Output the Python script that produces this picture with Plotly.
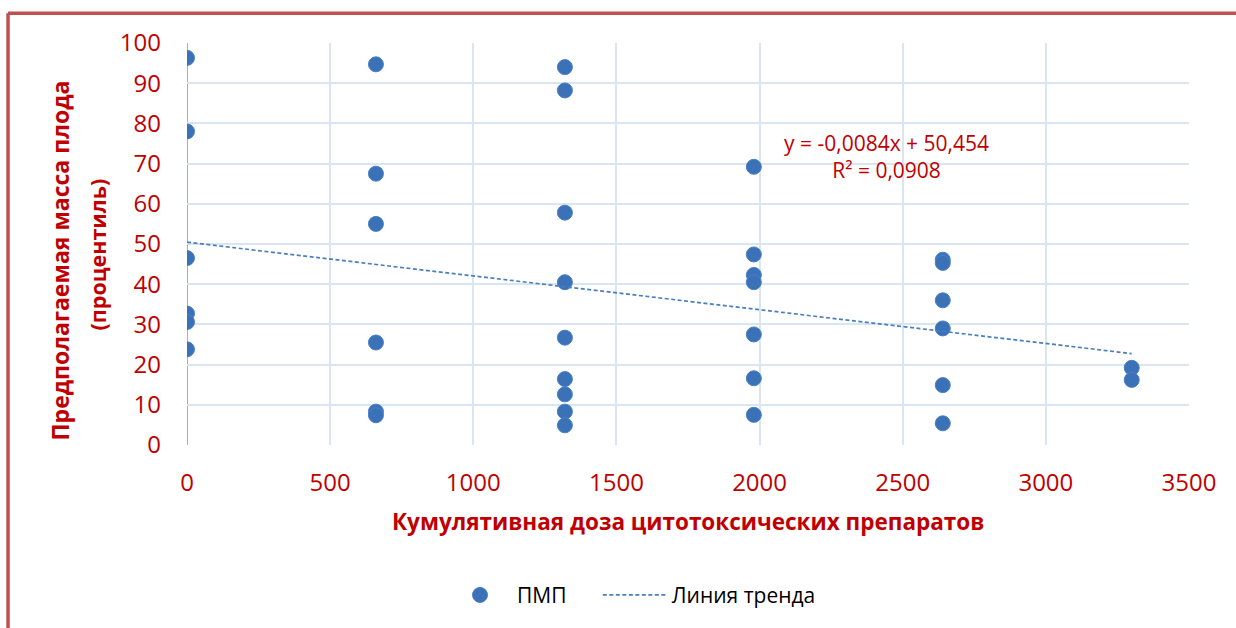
import plotly.graph_objects as go

# Cumulative cytotoxic dose (x) and estimated fetal weight percentile (y)
dose = [0, 0, 0, 0, 0, 0,
        660, 660, 660, 660, 660, 660,
        1320, 1320, 1320, 1320, 1320, 1320, 1320, 1320, 1320,
        1980, 1980, 1980, 1980, 1980, 1980, 1980,
        2640, 2640, 2640, 2640, 2640, 2640,
        3300, 3300]
percentile = [96.3, 78.0, 46.5, 32.7, 30.6, 23.8,
              94.7, 67.5, 55.0, 25.5, 8.3, 7.4,
              94.0, 88.2, 57.8, 40.5, 26.7, 16.4, 12.6, 8.3, 4.9,
              69.2, 47.4, 42.3, 40.5, 27.5, 16.6, 7.5,
              46.1, 45.3, 36.0, 29.0, 14.9, 5.4,
              19.2, 16.2]

# Linear trend coefficients
slope = -0.0084
intercept = 50.454
r_squared = 0.0908

x_ticks = [0, 500, 1000, 1500, 2000, 2500, 3000, 3500]
y_ticks = [0, 10, 20, 30, 40, 50, 60, 70, 80, 90, 100]

x_title = "Кумулятивная доза цитотоксических препаратов"
y_title_1 = "Предполагаемая масса плода"
y_title_2 = "(процентиль)"
series_name = "ПМП"
trend_name = "Линия тренда"

def fmt(v, nd):
    return f"{v:.{nd}f}".replace(".", ",")

trend_x = [min(dose), max(dose)]
trend_y = [slope * x + intercept for x in trend_x]

RED = "#C00000"
FONT = "Open Sans, Noto Sans, sans-serif"

fig = go.Figure()
fig.add_trace(go.Scatter(
    x=dose, y=percentile, mode="markers", name=series_name, legend="legend",
    marker=dict(size=15, color="#3A71B7", line=dict(width=1, color="#4A80C4")),
))
fig.add_trace(go.Scatter(
    x=trend_x, y=trend_y, mode="lines", name=trend_name, legend="legend2",
    line=dict(color="#4A7EBF", width=1.7, dash="4px,2.5px"),
))

axis_common = dict(
    showgrid=True, gridcolor="#DAE5F3", gridwidth=1.5,
    zeroline=False, showline=False, ticks="",
    tickfont=dict(family=FONT, size=24, color=RED),
)
fig.update_xaxes(range=[0, 3500], tickvals=x_ticks, ticklabelstandoff=21,
                 **axis_common)
fig.update_yaxes(range=[0, 100], tickvals=y_ticks, ticklabelstandoff=25,
                 **axis_common)

# zero-dose axis line drawn in a stronger blue
fig.add_shape(type="line", xref="x", yref="paper", x0=0, x1=0, y0=0, y1=1,
              line=dict(color="#8DB3E2", width=2), layer="below")
# outer frame (top and left edges)
fig.add_shape(type="line", xref="paper", yref="paper",
              x0=-0.1786, x1=1.06, y0=1.0743, y1=1.0743,
              line=dict(color="#C0504D", width=3.5))
fig.add_shape(type="line", xref="paper", yref="paper",
              x0=-0.1786, x1=-0.1786, y0=1.0743, y1=-0.5,
              line=dict(color="#C0504D", width=3.5))

fig.add_annotation(
    xref="paper", yref="paper", x=0.5003, y=-0.1906,
    xanchor="center", yanchor="middle", showarrow=False,
    text=f"<b>{x_title}</b>", font=dict(family=FONT, size=22.5, color=RED),
)
fig.add_annotation(
    xref="paper", yref="paper", x=-0.1267, y=0.459, textangle=-90,
    xanchor="center", yanchor="middle",
    showarrow=False, text=f"<b>{y_title_1}</b>",
    font=dict(family=FONT, size=23, color=RED),
)
fig.add_annotation(
    xref="paper", yref="paper", x=-0.0898, y=0.474, textangle=-90,
    xanchor="center", yanchor="middle",
    showarrow=False, text=f"<b>{y_title_2}</b>",
    font=dict(family=FONT, size=21.5, color=RED),
)
fig.add_annotation(
    x=2445, y=71.8, xanchor="center", yanchor="middle", showarrow=False,
    text=f"y = {fmt(slope, 4)}x + {fmt(intercept, 3)}<br>R² = {fmt(r_squared, 4)}",
    align="center",
    font=dict(family=FONT, size=21, color=RED),
)

legend_common = dict(
    orientation="h", y=-0.3738, xanchor="left", yanchor="middle",
    font=dict(family=FONT, size=21, color="#000000"),
    itemwidth=64, bgcolor="rgba(0,0,0,0)",
)

fig.update_layout(
    width=1236, height=628,
    margin=dict(l=187, r=47, t=43, b=181),
    paper_bgcolor="white", plot_bgcolor="white",
    showlegend=True,
    legend=dict(x=0.2555, **legend_common),
    legend2=dict(x=0.410, **legend_common),
)

fig.write_html("out.html")
